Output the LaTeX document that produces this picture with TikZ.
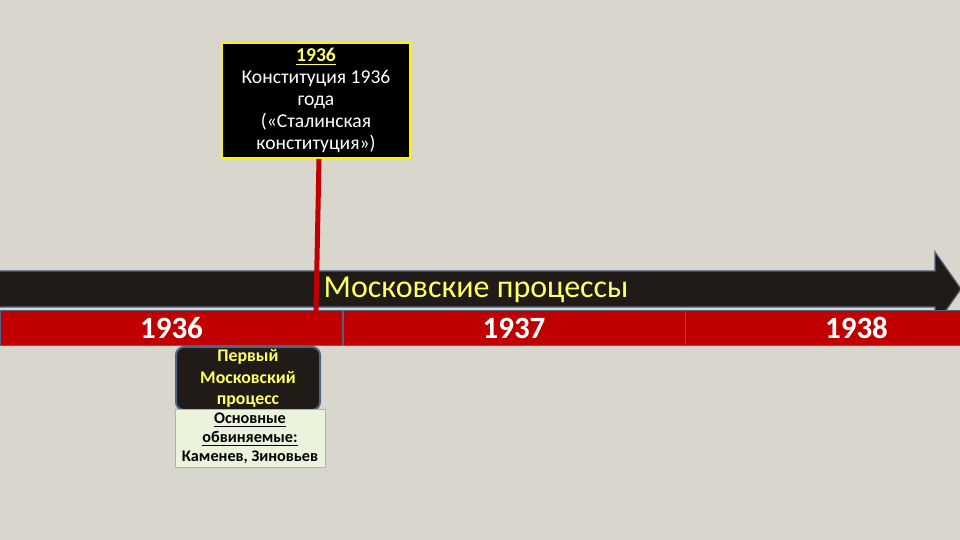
\documentclass[tikz,border=0pt]{standalone}
\usepackage{fontspec}
\setmainfont{Carlito}
\usetikzlibrary{positioning}
\definecolor{bgbeige}{RGB}{217,214,206}
\definecolor{bardark}{RGB}{32,27,22}
\definecolor{barred}{RGB}{192,0,0}
\definecolor{edgeblue}{RGB}{80,100,130}
\definecolor{txtyellow}{RGB}{255,255,102}
\definecolor{notegreen}{RGB}{235,243,220}

\begin{document}
\begin{tikzpicture}[x=0.5pt, y=-0.5pt,
	cell/.style={draw=edgeblue,line width=0.5pt,fill=barred,text=white,
	minimum width=171pt,minimum height=17.5pt,inner sep=0pt,
	font=\fontsize{15.5}{19}\selectfont\bfseries},
	topbox/.style={draw=yellow,line width=1pt,fill=black,text=white,
	minimum width=94pt,minimum height=57.5pt,align=center,inner sep=0pt,
	font=\fontsize{9.8}{11}\selectfont},
	procbox/.style={draw=edgeblue,line width=1pt,fill=bardark,rounded corners=4pt,
	text=txtyellow,minimum width=72pt,minimum height=31.5pt,align=center,
	inner sep=0pt,font=\fontsize{8.9}{10.8}\selectfont\bfseries},
	notebox/.style={draw=gray!60,line width=0.4pt,fill=notegreen,
	minimum width=75pt,minimum height=29pt,align=center,inner sep=0pt,
	font=\fontsize{8.1}{9.6}\selectfont\bfseries},
	redline/.style={draw=barred,line width=2.5pt}]
\fill[bgbeige] (0,0) rectangle (960,540);
\useasboundingbox (0,0) rectangle (960,540);
% arrow band
\draw[edgeblue,line width=0.6pt,fill=bardark] (-5,271) -- (935,271) -- (935,252)
	-- (961,289) -- (935,326) -- (935,307) -- (-5,307) -- cycle;
\node[text=txtyellow,font=\fontsize{16}{18}\selectfont] (title) at (476,290) {Московские процессы};
% years
\node[cell] (y1) at (171.5,328) {1936};
\node[cell] (y2) at (514,328) {1937};
\node[cell] (y3) at (856.5,328) {1938};
% boxes
\node[procbox] (proc) at (248,378.5) {Первый\\Московский\\процесс};
\node[notebox] (note) at (250,438) {\underline{Основные}\\\underline{обвиняемые:}\\Каменев, Зиновьев};
\node[topbox] (const) at (316,100.5) {{\color{txtyellow}\bfseries\underline{1936}}\\Конституция 1936\\года\\(«Сталинская\\конституция»)};
\coordinate (hit) at (316,311);
\draw[redline] ([xshift=1.5pt]const.south) -- (hit);
\end{tikzpicture}
\end{document}
